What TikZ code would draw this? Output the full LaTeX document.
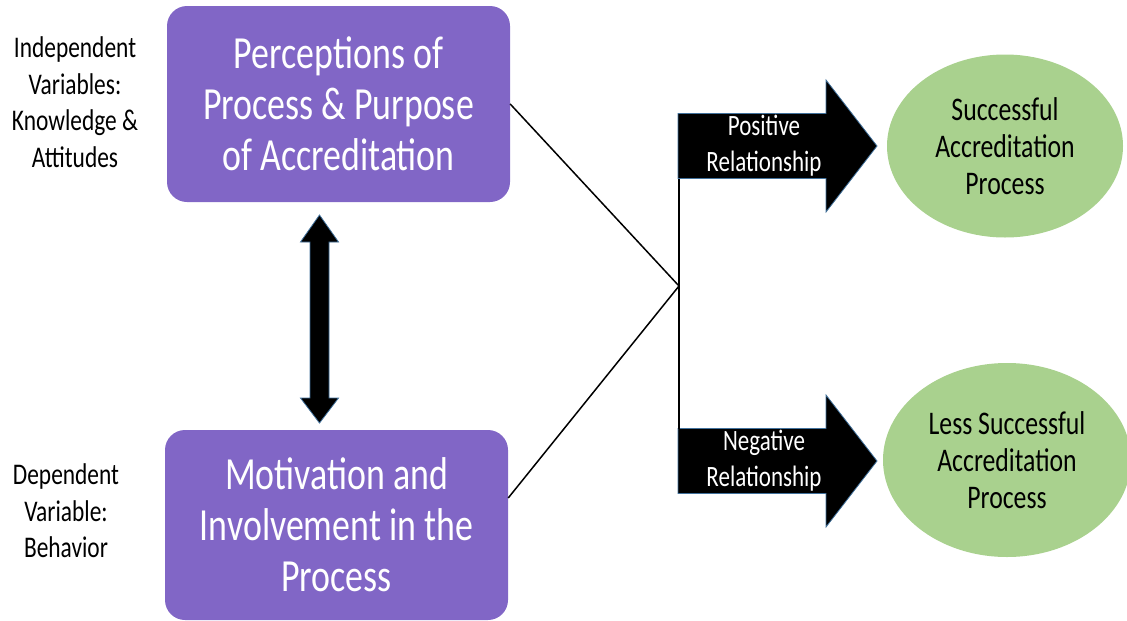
\documentclass[tikz,border=0pt]{standalone}
\usepackage{fontspec}
\setmainfont{Carlito}[FakeStretch=0.78]
\usetikzlibrary{shapes.geometric}
\definecolor{boxpurple}{RGB}{129,102,198}
\definecolor{ovalgreen}{RGB}{169,209,142}
\definecolor{arrowedge}{RGB}{65,113,156}
\tikzset{
  varbox/.style={fill=boxpurple, rounded corners=20pt, minimum width=343pt, inner sep=0pt, text=white, align=center, font=\fontsize{46}{51}\selectfont},
  outcome/.style={ellipse, fill=ovalgreen, inner sep=0pt, align=center, font=\fontsize{33}{37}\selectfont},
  sidelabel/.style={align=center, font=\fontsize{30}{36.5}\selectfont},
  arrowlabel/.style={align=center, text=white, font=\fontsize{29.5}{36}\selectfont},
  blockarrow/.style={fill=black, draw=arrowedge, line width=0.8pt},
  link/.style={draw=black, line width=1.5pt}
}
\begin{document}
\begin{tikzpicture}[x=1pt,y=-1pt]
\useasboundingbox (0,0) rectangle (1127,621);
% variables
\node[varbox, minimum height=196pt] (percep) at (338.5,104) {Perceptions of\\Process \& Purpose\\of Accreditation};
\node[varbox, minimum height=190pt] (motiv) at (336.5,525) {Motivation and\\Involvement in the\\Process};
\node[sidelabel] (indep) at (75,102) {Independent\\Variables:\\Knowledge \&\\Attitudes};
\node[sidelabel] (dep) at (66,511) {Dependent\\Variable:\\Behavior};
% two-way arrow
\def\ax{319.5};
\def\sw{9.5};
\def\hw{19};
\filldraw[blockarrow] (\ax,215) -- (\ax+\hw,242) -- (\ax+\sw,242) -- (\ax+\sw,398) -- (\ax+\hw,398) -- (\ax,423) -- (\ax-\hw,398) -- (\ax-\sw,398) -- (\ax-\sw,242) -- (\ax-\hw,242) -- cycle;
% relationship arrows
\foreach \cy/\name/\word in {146/pos/Positive, 461/neg/Negative} {
  \coordinate (\name-top) at (679,\cy-32.5);
  \coordinate (\name-bot) at (679,\cy+32.5);
  \filldraw[blockarrow] (678,\cy-32.5) -- (826,\cy-32.5) -- (826,\cy-66) -- (877,\cy) -- (826,\cy+66) -- (826,\cy+32.5) -- (678,\cy+32.5) -- cycle;
  \node[arrowlabel] (\name) at (764,\cy) {\word\\Relationship};
}
% connectors
\coordinate (join) at (679,286);
\draw[link] (percep.east) -- (join) -- ([yshift=27pt]motiv.east);
\draw[link] (pos-bot) -- (neg-top);
% outcomes
\node[outcome, minimum width=236pt, minimum height=183pt] (success) at (1005,146) {Successful\\Accreditation\\Process};
\node[outcome, minimum width=248pt, minimum height=194pt] (less) at (1007,460) {Less Successful\\Accreditation\\Process};
\end{tikzpicture}
\end{document}
